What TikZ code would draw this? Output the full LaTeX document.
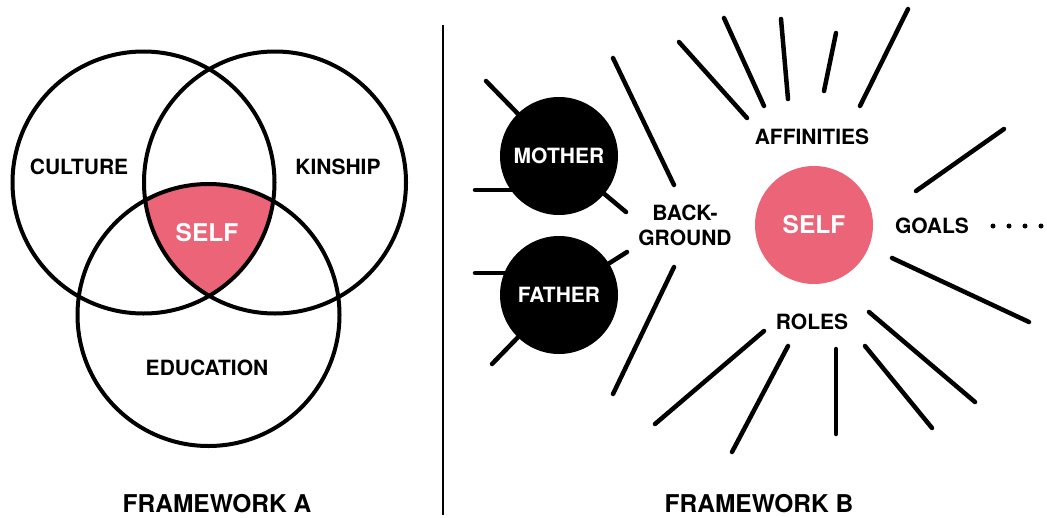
\documentclass[tikz,border=0pt]{standalone}
\usepackage{fontspec}
\setmainfont{TeX Gyre Heros}
\usetikzlibrary{backgrounds}
\definecolor{selfpink}{HTML}{EC6478}
\begin{document}
\begin{tikzpicture}[x=1pt,y=-1pt,
  lbl/.style={font=\fontsize{21}{25}\selectfont\bfseries, align=center, inner sep=0pt},
  biglbl/.style={font=\fontsize{24.5}{28}\selectfont\bfseries, inner sep=0pt},
  titlelbl/.style={font=\fontsize{24.5}{28}\selectfont\bfseries, inner sep=0pt},
  venn/.style={line width=4pt},
  ray/.style={line width=4.5pt, line cap=round},
  parent/.style={circle, fill=black, minimum size=118pt, inner sep=0pt, text=white,
    font=\fontsize{21}{25}\selectfont\bfseries},
  selfdisc/.style={circle, fill=selfpink, minimum size=118pt, inner sep=0pt, text=white,
    font=\fontsize{24.5}{28}\selectfont\bfseries},
  dotmark/.style={circle, fill=black, minimum size=5pt, inner sep=0pt}
]
\useasboundingbox (0,0) rectangle (1047,517);
% ---------- Framework A ----------
\coordinate (cL) at (143.5,182.5);
\coordinate (cR) at (275,182.5);
\coordinate (cB) at (208.5,315);
\begin{scope}
  \clip (cL) circle[radius=131pt];
  \clip (cR) circle[radius=131pt];
  \fill[selfpink] (cB) circle[radius=131pt];
\end{scope}
\draw[venn] (cL) circle[radius=131pt];
\draw[venn] (cR) circle[radius=131pt];
\draw[venn] (cB) circle[radius=131pt];
\node[lbl] (culture) at (79,167) {CULTURE};
\node[lbl] (kinship) at (338,167) {KINSHIP};
\node[biglbl, text=white] (selfA) at (207,233) {SELF};
\node[lbl] (education) at (207,368) {EDUCATION};
\node[titlelbl] (fwA) at (217,503.5) {FRAMEWORK A};
% ---------- separator ----------
\coordinate (sepT) at (443,25);
\coordinate (sepB) at (443,515);
\draw[line width=2pt] (sepT) -- (sepB);
% ---------- Framework B ----------
\node[parent] (mother) at (559,156) {MOTHER};
\node[parent] (father) at (559,295) {FATHER};
\node[selfdisc] (selfB) at (814,225) {SELF};
\node[lbl] (background) at (685,225) {BACK-\\GROUND};
\node[lbl] (affinities) at (812,137) {AFFINITIES};
\node[lbl] (goals) at (932,226) {GOALS};
\node[lbl] (roles) at (812,322) {ROLES};
\node[titlelbl] (fwB) at (759,503.5) {FRAMEWORK B};
\node[dotmark] (d1) at (993,226) {};
\node[dotmark] (d2) at (1009,226) {};
\node[dotmark] (d3) at (1025,226) {};
\node[dotmark] (d4) at (1041,226) {};
\begin{scope}[on background layer]
  % mother rays
  \draw[ray] (486,81) -- (mother.center);
  \draw[ray] (475,190) -- (545,190);
  \draw[ray] (626,212) -- (mother.center);
  % father rays
  \draw[ray] (627,252) -- (father.center);
  \draw[ray] (475,273) -- (545,273);
  \draw[ray] (492,364) -- (father.center);
\end{scope}
% background rays
\draw[ray] (613,58) -- (674,185);
\draw[ray] (674,267) -- (613,394);
% affinities rays
\draw[ray] (679,42) -- (747,118);
\draw[ray] (724,18) -- (764,106);
\draw[ray] (781,19) -- (788,99);
\draw[ray] (836,33) -- (824,91);
\draw[ray] (908,9) -- (860,106);
% goals rays
\draw[ray] (1004,129) -- (916,191);
\draw[ray] (892,258) -- (1029,322);
% roles rays
\draw[ray] (764,331) -- (655,424);
\draw[ray] (788,346) -- (732,452);
\draw[ray] (836,349) -- (836,434);
\draw[ray] (865,346) -- (932,428);
\draw[ray] (869,312) -- (975,402);
\end{tikzpicture}
\end{document}
